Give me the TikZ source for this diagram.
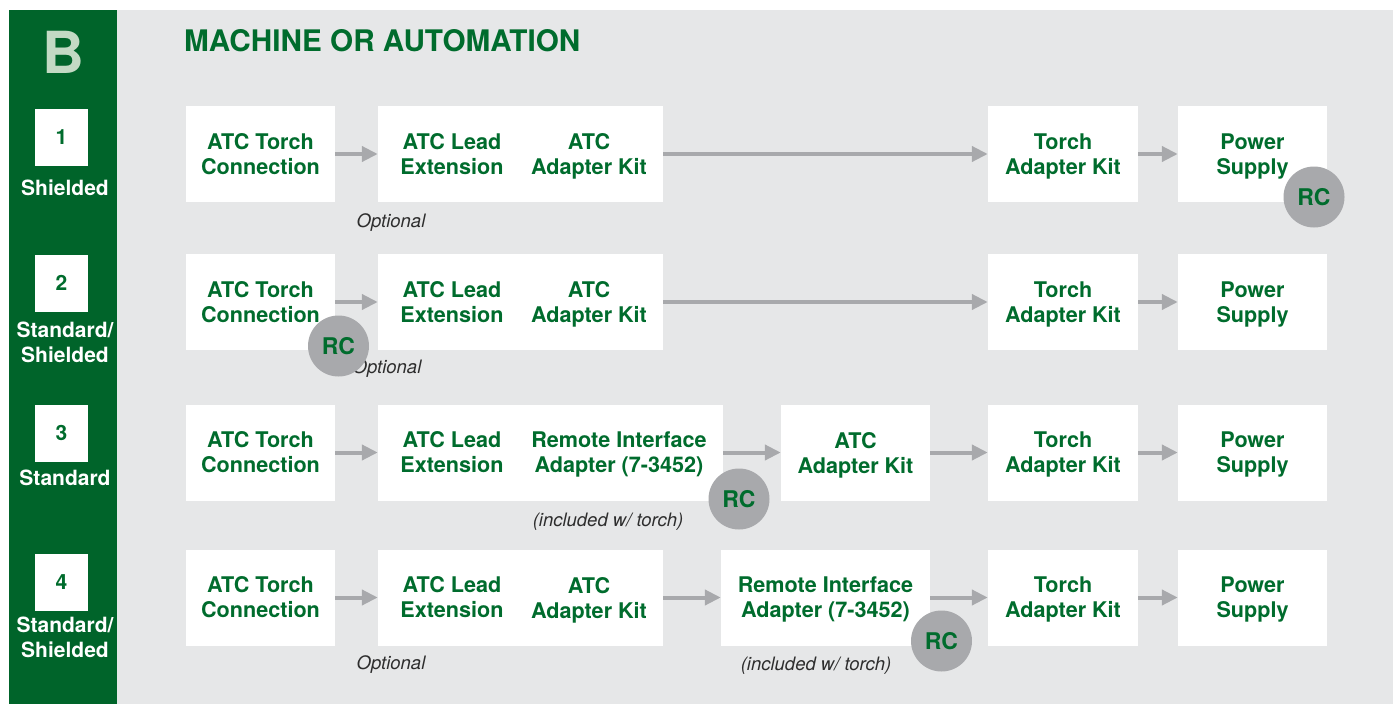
\documentclass[tikz,border=0pt]{standalone}
\usepackage{fontspec}
\setmainfont{TeX Gyre Heros}
\usetikzlibrary{arrows.meta}
\definecolor{bgreen}{RGB}{0,100,42}
\definecolor{tgreen}{RGB}{0,108,45}
\definecolor{panel}{RGB}{230,231,232}
\definecolor{agray}{RGB}{168,169,172}
\definecolor{lgreen}{RGB}{195,218,196}
\definecolor{itgray}{RGB}{45,45,45}
\newcommand\nodepth[1]{\raisebox{0pt}[\height][0pt]{#1}}
\begin{document}
\begin{tikzpicture}[x=1pt,y=-1pt,
 box/.style={fill=white, inner sep=0pt, minimum height=96pt, align=center, font=\fontsize{21.6}{25}\selectfont\bfseries, text=tgreen},
 lbl/.style={inner sep=0pt, align=center, font=\fontsize{21.6}{25}\selectfont\bfseries, text=tgreen},
 arr/.style={draw=agray, line width=4pt, -{Triangle[length=16pt,width=15pt]}},
 rc/.style={circle, fill=agray, minimum size=61pt, inner sep=0pt, font=\fontsize{23}{23}\selectfont\bfseries, text=tgreen},
 note/.style={font=\fontsize{18.5}{18.5}\selectfont\itshape, text=itgray, inner sep=0pt},
 numbox/.style={fill=white, minimum width=53pt, minimum height=57pt, inner sep=0pt, font=\fontsize{21}{21}\selectfont\bfseries, text=tgreen},
 rowlbl/.style={text=white, align=center, font=\fontsize{21}{25}\selectfont\bfseries, inner sep=0pt}]
\useasboundingbox (0,0) rectangle (1393,704);
\fill[white] (0,0) rectangle (1393,704);
\fill[panel] (117,10) rectangle (1393,704);
\fill[bgreen] (9,10) rectangle (117,704);
% header
\node[font=\fontsize{58}{58}\selectfont\bfseries, text=lgreen, inner sep=0pt] (bletter) at (63,52) {B};
\node[anchor=west, font=\fontsize{29.7}{29.7}\selectfont\bfseries, text=tgreen, inner sep=0pt] (title) at (184,41) {MACHINE OR AUTOMATION};
% row labels
\node[numbox] (n1) at (61.5,137) {1};
\node[rowlbl] (l1) at (65,188) {Shielded};
\node[numbox] (n2) at (61.5,283) {2};
\node[rowlbl] (l2) at (65,342.5) {Standard/\\Shielded};
\node[numbox] (n3) at (61.5,433) {3};
\node[rowlbl] (l3) at (65,478) {Standard};
\node[numbox] (n4) at (61.5,582) {4};
\node[rowlbl] (l4) at (65,637.5) {Standard/\\Shielded};
% row 1
\node[box, minimum width=149pt] (a1) at (260.5,154) {ATC Torch\\Connection};
\node[box, minimum width=285pt] (b1) at (520.5,154) {};
\node[lbl] (b1l) at (452,154) {ATC Lead\\Extension};
\node[lbl] (b1r) at (589,154) {ATC\\\nodepth{Adapter Kit}};
\node[box, minimum width=150pt] (t1) at (1063,154) {Torch\\\nodepth{Adapter Kit}};
\node[box, minimum width=149pt] (p1) at (1252.5,154) {Power\\\nodepth{Supply}};
\draw[arr] (a1) -- (b1);
\draw[arr] (b1) -- (t1);
\draw[arr] (t1) -- (p1);
% row 2
\node[box, minimum width=149pt] (a2) at (260.5,302) {ATC Torch\\Connection};
\node[box, minimum width=285pt] (b2) at (520.5,302) {};
\node[lbl] (b2l) at (452,302) {ATC Lead\\Extension};
\node[lbl] (b2r) at (589,302) {ATC\\\nodepth{Adapter Kit}};
\node[box, minimum width=150pt] (t2) at (1063,302) {Torch\\\nodepth{Adapter Kit}};
\node[box, minimum width=149pt] (p2) at (1252.5,302) {Power\\\nodepth{Supply}};
\draw[arr] (a2) -- (b2);
\draw[arr] (b2) -- (t2);
\draw[arr] (t2) -- (p2);
% row 3
\node[box, minimum width=149pt] (a3) at (260.5,452.5) {ATC Torch\\Connection};
\node[box, minimum width=345pt] (b3) at (550.5,452.5) {};
\node[lbl] (b3l) at (452,452.5) {ATC Lead\\Extension};
\node[lbl] (b3r) at (619,452.5) {Remote Interface\\\nodepth{Adapter (7-3452)}};
\node[box, minimum width=149pt] (c3) at (855.5,452.5) {ATC\\\nodepth{Adapter Kit}};
\node[box, minimum width=150pt] (t3) at (1063,452.5) {Torch\\\nodepth{Adapter Kit}};
\node[box, minimum width=149pt] (p3) at (1252.5,452.5) {Power\\\nodepth{Supply}};
\draw[arr] (a3) -- (b3);
\draw[arr] (b3) -- (c3);
\draw[arr] (c3) -- (t3);
\draw[arr] (t3) -- (p3);
% row 4
\node[box, minimum width=149pt] (a4) at (260.5,597.5) {ATC Torch\\Connection};
\node[box, minimum width=285pt] (b4) at (520.5,597.5) {};
\node[lbl] (b4l) at (452,597.5) {ATC Lead\\Extension};
\node[lbl] (b4r) at (589,597.5) {ATC\\\nodepth{Adapter Kit}};
\node[box, minimum width=209pt] (c4) at (825.5,597.5) {Remote Interface\\\nodepth{Adapter (7-3452)}};
\node[box, minimum width=150pt] (t4) at (1063,597.5) {Torch\\\nodepth{Adapter Kit}};
\node[box, minimum width=149pt] (p4) at (1252.5,597.5) {Power\\\nodepth{Supply}};
\draw[arr] (a4) -- (b4);
\draw[arr] (b4) -- (c4);
\draw[arr] (c4) -- (t4);
\draw[arr] (t4) -- (p4);
% notes
\node[note] (o1) at (391,223) {Optional};
\node[note] (o2) at (387,369) {Optional};
\node[note] (o4) at (391,665) {Optional};
\node[note] (i3) at (608,522) {(included w/ torch)};
\node[note] (i4) at (816,666) {(included w/ torch)};
% RC circles
\node[rc] (rc1) at (1314,197) {RC};
\node[rc] (rc2) at (338.5,346) {RC};
\node[rc] (rc3) at (739,499) {RC};
\node[rc] (rc4) at (941.5,641) {RC};
\end{tikzpicture}
\end{document}
